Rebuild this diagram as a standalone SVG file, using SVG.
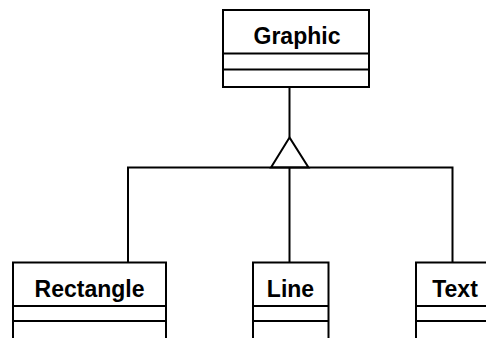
<svg xmlns="http://www.w3.org/2000/svg" width="486" height="338" viewBox="0 0 486 338">
<style>
.box{fill:#fff;stroke:#000;stroke-width:2}
.sep{stroke:#000;stroke-width:2}
.lbl{font-family:"Liberation Sans",Arial,sans-serif;font-weight:bold;font-size:23px;text-anchor:middle;fill:#000}
.con{fill:none;stroke:#000;stroke-width:2}
</style>
<rect width="486" height="338" fill="#fff"/>
<g id="connectors">
<line class="con" x1="289.5" y1="87" x2="289.5" y2="137.5"/>
<polygon class="con" points="289.5,137.5 271,167.5 308.5,167.5" fill="#fff"/>
<polyline class="con" points="128,262 128,167.5 452.5,167.5 452.5,262"/>
<line class="con" x1="289.5" y1="167.5" x2="289.5" y2="262"/>
</g>
<g id="graphic">
<rect class="box" x="223" y="10" width="146" height="77"/>
<line class="sep" x1="223" y1="53.5" x2="369" y2="53.5"/>
<line class="sep" x1="223" y1="69.5" x2="369" y2="69.5"/>
<text class="lbl" x="297" y="43.5">Graphic</text>
</g>
<g id="rectangle">
<rect class="box" x="13" y="262.5" width="153" height="90"/>
<line class="sep" x1="13" y1="306" x2="166" y2="306"/>
<line class="sep" x1="13" y1="321" x2="166" y2="321"/>
<text class="lbl" x="89.5" y="297">Rectangle</text>
</g>
<g id="line">
<rect class="box" x="253" y="262.5" width="75.5" height="90"/>
<line class="sep" x1="253" y1="306" x2="328.5" y2="306"/>
<line class="sep" x1="253" y1="321" x2="328.5" y2="321"/>
<text class="lbl" x="290.5" y="297">Line</text>
</g>
<g id="text">
<rect class="box" x="416" y="262.5" width="74" height="90"/>
<line class="sep" x1="416" y1="306" x2="490" y2="306"/>
<line class="sep" x1="416" y1="321" x2="490" y2="321"/>
<text class="lbl" x="455" y="297">Text</text>
</g>
</svg>
